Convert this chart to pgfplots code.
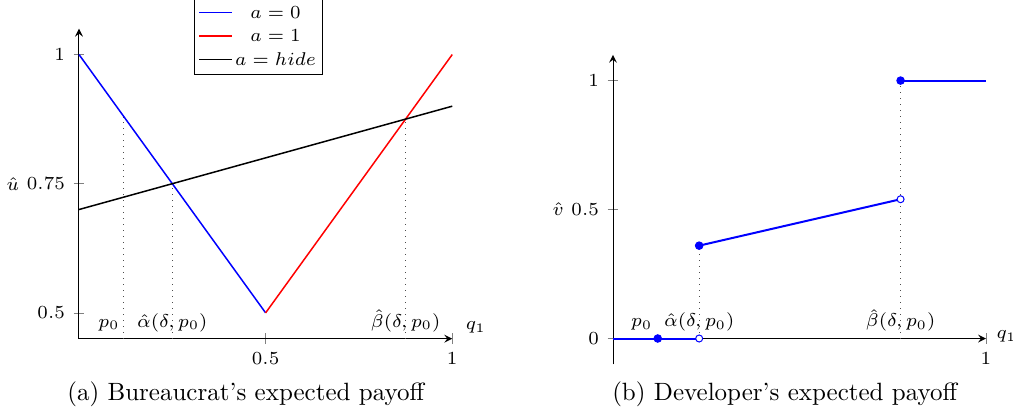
\RequirePackage{fix-cm}
\documentclass[border=0pt]{standalone}
\usepackage{pgfplots}
\pgfplotsset{compat=1.18}
\newcommand{\axfont}{\fontsize{7.4}{8.8}\selectfont}
\newcommand{\capfont}{\fontsize{10}{12}\selectfont}
\begin{document}
\begin{tikzpicture}
% ---------------- (a) ----------------
\begin{axis}[
  at={(31.6pt,30.12pt)}, anchor=south west,
  scale only axis, width=149.3pt, height=124pt,
  axis lines=left, tick align=center,
  xmin=0, xmax=1, ymin=0.45, ymax=1.05,
  xtick={0.5,1}, ytick={0.5,0.75,1},
  tick label style={font=\axfont},
  label style={font=\axfont},
  xlabel={$q_1$}, ylabel={$\hat{u}$},
  xlabel style={at={(axis description cs:1.013,0.037)}, anchor=west},
  ylabel style={at={(axis description cs:-0.177,0.5)}, anchor=center, rotate=-90},
  legend cell align=center,
  legend image code/.code={\draw[#1] (0pt,0pt) -- (13pt,0pt);},
  legend style={at={(axis description cs:0.481,0.85)}, anchor=south, font=\axfont, draw=black,
    inner xsep=1.5pt, inner ysep=2.5pt, row sep=2.5pt,
    nodes={inner sep=1pt, text depth=0pt}},
  clip=false,
]
\addplot[black!70, dotted, forget plot] coordinates {(0.12,0.45) (0.12,0.88)};
\addplot[black!70, dotted, forget plot] coordinates {(0.25,0.45) (0.25,0.75)};
\addplot[black!70, dotted, forget plot] coordinates {(0.875,0.45) (0.875,0.875)};
\addplot[blue, semithick] coordinates {(0,1) (0.5,0.5)};
\addlegendentry{$a=0$}
\addplot[red, semithick] coordinates {(0.5,0.5) (1,1)};
\addlegendentry{$a=1$}
\addplot[black, semithick] coordinates {(0,0.7) (1,0.9)};
\addlegendentry{$a=hide$}
\node[font=\axfont, anchor=base] at (axis cs:0.08,0.472) {$p_0$};
\node[font=\axfont, anchor=base] at (axis cs:0.25,0.472) {$\hat{\alpha}(\delta,p_0)$};
\node[font=\axfont, anchor=base] at (axis cs:0.875,0.472) {$\hat{\beta}(\delta,p_0)$};
\end{axis}
% ---------------- (b) ----------------
\begin{axis}[
  at={(245.2pt,19.88pt)}, anchor=south west,
  scale only axis, width=149.2pt, height=123.8pt,
  axis lines=middle, tick align=center,
  xmin=0, xmax=1, ymin=-0.1, ymax=1.1,
  xtick={1}, ytick={0,0.5,1},
  hide obscured y ticks=false, hide obscured x ticks=false,
  tick label style={font=\axfont},
  label style={font=\axfont},
  xlabel={$q_1$}, ylabel={$\hat{v}$},
  xlabel style={at={(axis description cs:1.005,0.09)}, anchor=west},
  ylabel style={at={(axis description cs:-0.147,0.5)}, anchor=center},
  clip=false,
]
\addplot[black!70, dotted] coordinates {(0.231,0) (0.231,0.36)};
\addplot[black!70, dotted] coordinates {(0.771,0) (0.771,1)};
\addplot[blue, thick] coordinates {(0,0) (0.231,0)};
\addplot[blue, thick] coordinates {(0.231,0.36) (0.771,0.54)};
\addplot[blue, thick] coordinates {(0.771,1) (1,1)};
\addplot[blue, only marks, mark=*, mark size=1.5pt] coordinates {(0.12,0) (0.231,0.36) (0.771,1)};
\addplot[blue, only marks, mark=*, mark size=1.4pt, mark options={fill=white}] coordinates {(0.231,0) (0.771,0.54)};
\node[font=\axfont, anchor=base] at (axis cs:0.077,0.045) {$p_0$};
\node[font=\axfont, anchor=base] at (axis cs:0.231,0.045) {$\hat{\alpha}(\delta,p_0)$};
\node[font=\axfont, anchor=base] at (axis cs:0.771,0.045) {$\hat{\beta}(\delta,p_0)$};
\end{axis}
% captions
\node[font=\capfont, anchor=base] at (98.3pt,5.3pt) {(a) Bureaucrat's expected payoff};
\node[font=\capfont, anchor=base] at (313.9pt,5.3pt) {(b) Developer's expected payoff};
\pgfresetboundingbox
\path[use as bounding box] (0,0) rectangle (405.2pt,165.6pt);
\end{tikzpicture}
\end{document}
